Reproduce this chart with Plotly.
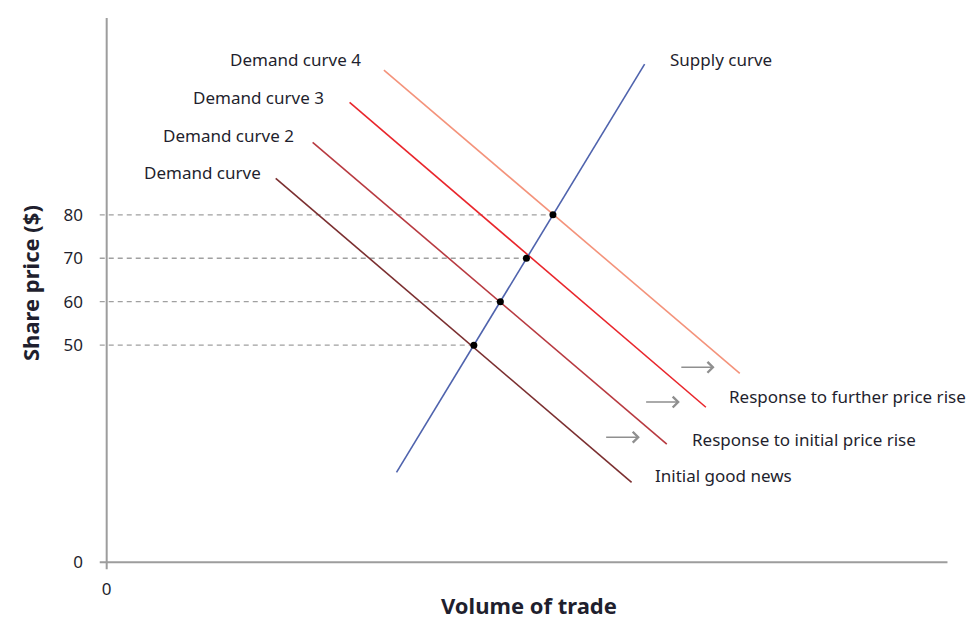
import plotly.graph_objects as go

# ---- data (diagram units) ----
supply_x = [66.7, 123.8]
supply_y = [20.7, 114.7]

demand_names = ["Demand curve", "Demand curve 2", "Demand curve 3", "Demand curve 4"]
demand_x = [[38.9, 120.8], [47.4, 128.9], [55.9, 137.9], [63.8, 145.7]]
demand_y = [[88.4, 18.4], [96.7, 27.2], [105.9, 35.7], [113.3, 43.5]]

eq_price = [50, 60, 70, 80]
eq_volume = [84.5, 90.6, 96.6, 102.7]

y_tick_vals = [0, 50, 60, 70, 80]
x_tick_vals = [0]

demand_colors = ["#7b2f30", "#b83a40", "#e9262c", "#f4937b"]
supply_color = "#4f63ad"
axis_color = "#9d9d9d"
text_color = "#1f1f2e"
FONT = "Noto Sans"

fig = go.Figure()

# axis lines
fig.add_trace(go.Scatter(x=[-1.6, 193.5], y=[0, 0], mode="lines",
                         line=dict(color=axis_color, width=2), hoverinfo="skip", showlegend=False))
fig.add_trace(go.Scatter(x=[0, 0], y=[-1.6, 125.3], mode="lines",
                         line=dict(color=axis_color, width=2), hoverinfo="skip", showlegend=False))

# dashed guide lines
for p, v in zip(eq_price, eq_volume):
    fig.add_trace(go.Scatter(x=[-1.6, v], y=[p, p], mode="lines",
                             line=dict(color="#a0a0a0", width=1.3, dash="5px,4px"),
                             hoverinfo="skip", showlegend=False))

# demand curves
for name, xs, ys, c in zip(demand_names, demand_x, demand_y, demand_colors):
    fig.add_trace(go.Scatter(x=xs, y=ys, mode="lines", name=name,
                             line=dict(color=c, width=1.6), showlegend=False))

# supply curve
fig.add_trace(go.Scatter(x=supply_x, y=supply_y, mode="lines", name="Supply curve",
                         line=dict(color=supply_color, width=1.6), showlegend=False))

# equilibrium points
fig.add_trace(go.Scatter(x=eq_volume, y=eq_price, mode="markers",
                         marker=dict(color="black", size=7), showlegend=False))

# labels
labels = [
    ("Demand curve", 35.9, 89.8, "right"),
    ("Demand curve 2", 43.5, 98.3, "right"),
    ("Demand curve 3", 50.4, 107.1, "right"),
    ("Demand curve 4", 59.1, 115.8, "right"),
    ("Supply curve", 129.1, 115.8, "left"),
    ("Response to further price rise", 142.7, 38.2, "left"),
    ("Response to initial price rise", 134.2, 28.3, "left"),
    ("Initial good news", 125.7, 20.0, "left"),
]
for t, x, y, anc in labels:
    fig.add_annotation(x=x, y=y, text=t, showarrow=False, xanchor=anc, yanchor="middle",
                       font=dict(family=FONT, size=17, color=text_color))

# shift arrows
arrows = [(131.9, 139.9, 44.9), (123.8, 131.9, 36.9), (114.6, 122.7, 28.8)]
for x0, x1, y in arrows:
    fig.add_annotation(x=x1, y=y, ax=x0, ay=y, xref="x", yref="y", axref="x", ayref="y",
                       text="", showarrow=True, arrowhead=4, arrowsize=1.4,
                       arrowwidth=1.5, arrowcolor="#8f8f8f")

# axis titles
fig.add_annotation(x=-0.0794, y=0.518, xref="paper", yref="paper", text="<b>Share price ($)</b>",
                   showarrow=False, textangle=-90, xanchor="center", yanchor="middle",
                   font=dict(family=FONT, size=22, color=text_color))
fig.add_annotation(x=0.5035, y=-0.0899, xref="paper", yref="paper", text="<b>Volume of trade</b>",
                   showarrow=False, xanchor="center", yanchor="bottom", borderpad=0,
                   font=dict(family=FONT, size=22, color=text_color))

fig.update_layout(
    width=968, height=622,
    margin=dict(l=98, r=14, t=15, b=51),
    paper_bgcolor="white", plot_bgcolor="white",
    font=dict(family=FONT, size=17, color=text_color),
    showlegend=False,
    xaxis=dict(range=[-2, 195], showgrid=False, zeroline=False, showline=False,
               automargin=False,
               tickvals=x_tick_vals, ticktext=[str(v) for v in x_tick_vals],
               ticks="", ticklabelstandoff=6,
               tickfont=dict(family=FONT, size=17, color=text_color)),
    yaxis=dict(range=[-2, 126], showgrid=False, zeroline=False, showline=False,
               automargin=False,
               tickvals=y_tick_vals, ticktext=[str(v) for v in y_tick_vals],
               ticks="", ticklabelstandoff=14,
               tickfont=dict(family=FONT, size=17, color=text_color)),
)

fig.write_html("out.html", config={"displayModeBar": False},
               post_script="document.body.style.margin='0px';")
